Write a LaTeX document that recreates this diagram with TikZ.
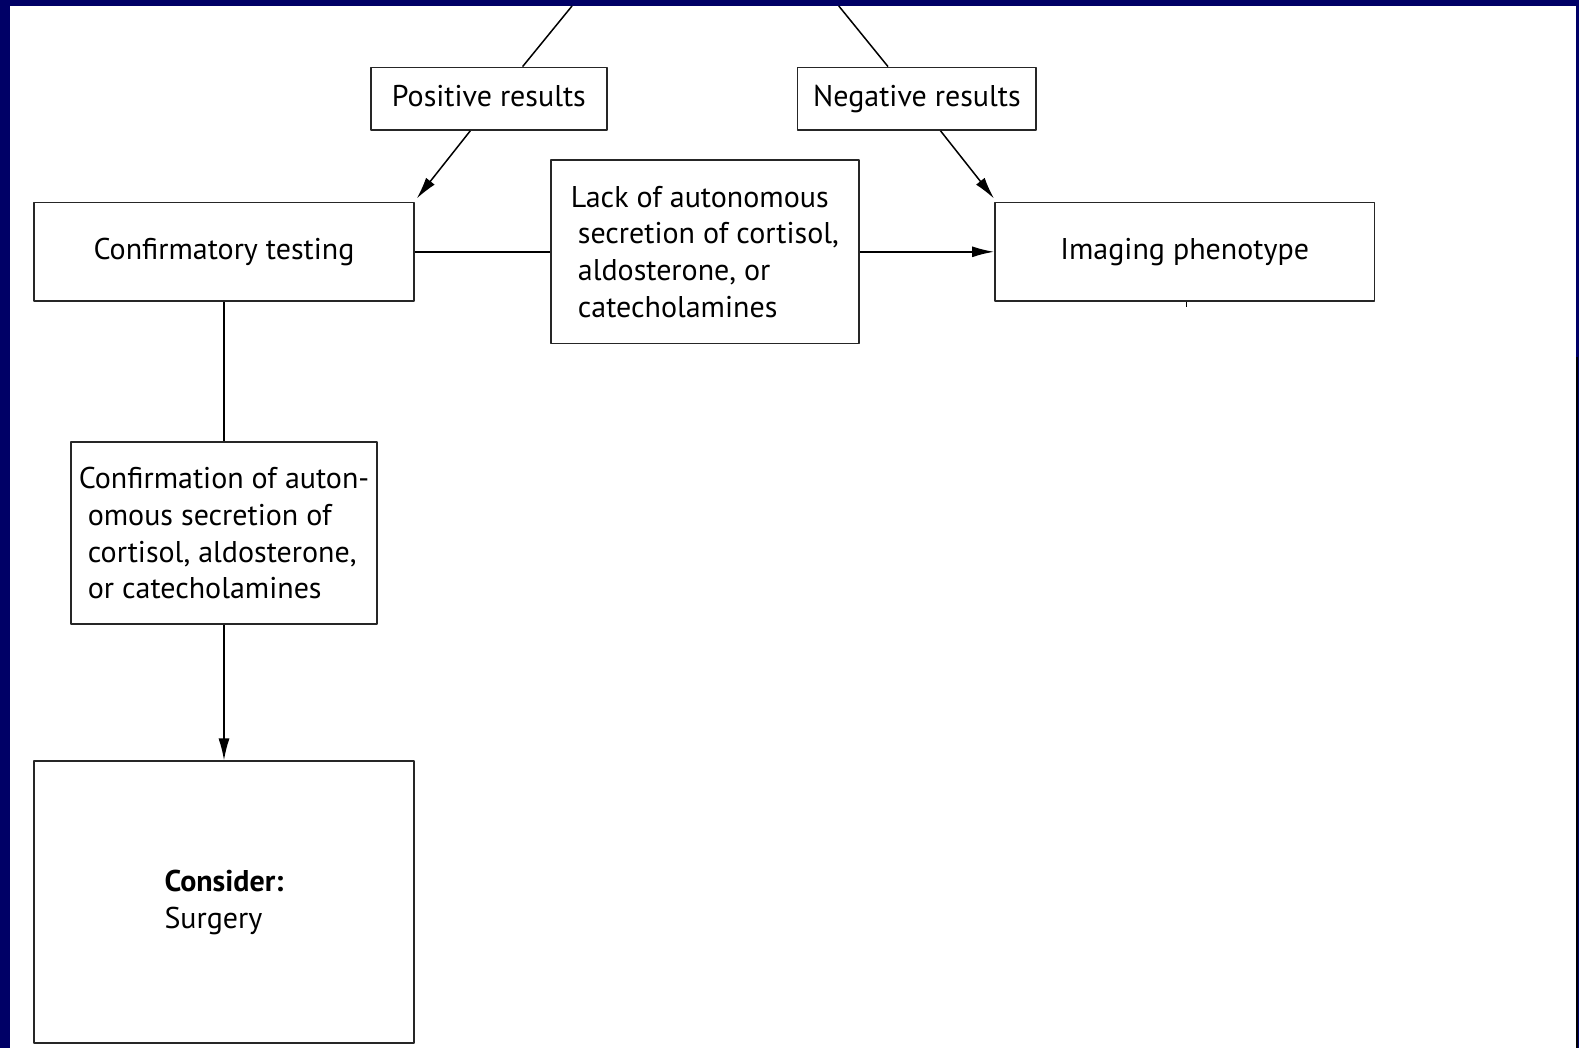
\documentclass[tikz,border=0pt]{standalone}
\usepackage{fontspec}
\setmainfont{PT Sans}
\usetikzlibrary{arrows.meta,calc}
\definecolor{navy}{RGB}{0,0,102}
\begin{document}
\begin{tikzpicture}[x=1pt,y=-1pt,line join=round,>={Latex[length=22pt,width=11pt]},line width=1.5pt]
	\tikzset{every node/.style={font=\fontsize{30}{36.8}\selectfont},
		box/.style={draw=black!85,line width=1.8pt,inner sep=0pt,align=left,anchor=center},
		oneline/.style={box,text height=21.6pt,text depth=6.6pt}}
	\useasboundingbox (0,0) rectangle (1579,1048);
	\fill[navy] (0,0) rectangle (1579,1048);
	\fill[white] (10,6) rectangle (1576,1048);
	\draw (1577,357)--(1577,1048);
	% boxes
	\node[oneline,minimum width=236.6pt,minimum height=62.4pt] (pos) at (488.9,98.7) {Positive results};
	\node[oneline,minimum width=238.7pt,minimum height=62.4pt] (neg) at (916.9,98.7) {Negative results};
	\node[oneline,minimum width=379.6pt,minimum height=98.7pt] (ct) at (224,251.8) {Confirmatory testing};
	\node[box,minimum width=308pt,minimum height=183.3pt] (lack) at (704.9,251.8) {Lack of autonomous\\\hspace*{7pt}secretion of cortisol,\\\hspace*{7pt}aldosterone, or\\\hspace*{7pt}catecholamines};
	\node[oneline,minimum width=379.6pt,minimum height=98.7pt] (img) at (1184.7,251.8) {Imaging phenotype};
	\node[box,minimum width=306pt,minimum height=182.3pt] (cf) at (224,533.2) {Confirmation of auton-\\\hspace*{9pt}omous secretion of\\\hspace*{9pt}cortisol, aldosterone,\\\hspace*{9pt}or catecholamines};
	\node[box,minimum width=379.6pt,minimum height=282pt] (cs) at (224,902.3) {\textbf{Consider:}\\Surgery};
	% connectors
	\coordinate (tl) at (572,6);
	\coordinate (tr) at (838.8,6);
	\draw (tl) -- ($(pos.north)+(33.7,0)$);
	\draw (tr) -- ($(neg.north)+(-28.9,0)$);
	\draw[->] ($(pos.south)+(-18.6,0)$) -- ($(ct.north east)+(2,-3)$);
	\draw[->] ($(neg.south)+(23.6,0)$) -- ($(img.north west)+(0,-3)$);
	\draw (ct) -- (lack);
	\draw[->] (lack) -- (img);
	\draw (ct) -- (cf);
	\draw[->] (cf) -- (cs);
	\draw[line width=1pt] ($(img.south)+(1.5,0)$) -- ++(0,5);
\end{tikzpicture}
\end{document}
